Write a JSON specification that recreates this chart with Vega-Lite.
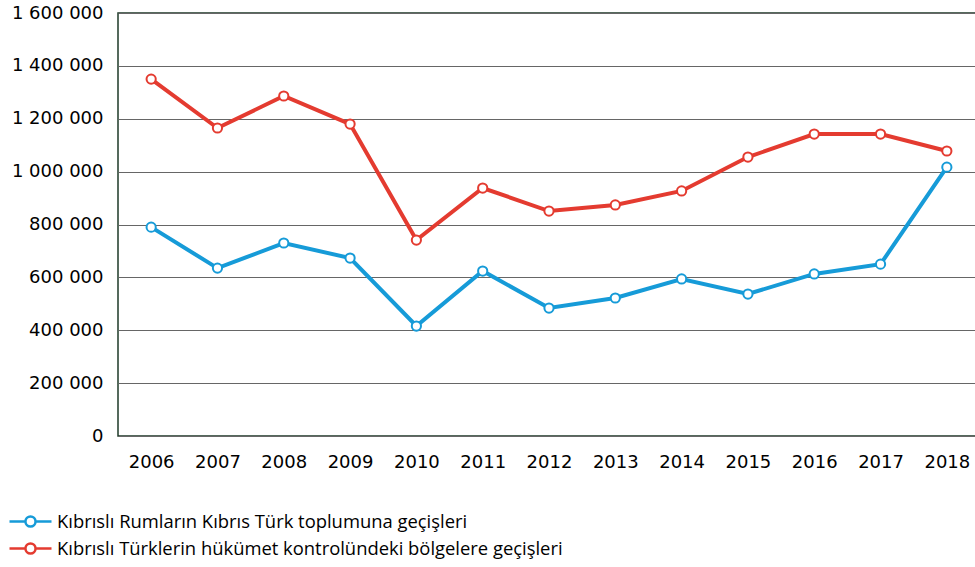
{
  "$schema": "https://vega.github.io/schema/vega-lite/v6.json",
  "autosize": "none",
  "width": 862,
  "height": 423,
  "padding": {"left": 118, "top": 13, "right": 0, "bottom": 131},
  "background": "white",
  "config": {
    "view": {"stroke": "#1e3a28", "strokeWidth": 1.5},
    "axis": {"labelFont": "DejaVu Sans", "labelFontSize": 18, "labelColor": "#000", "ticks": false, "domain": false, "title": null}
  },
  "data": {"values": [
    {"year": "2006", "series": "Kıbrıslı Rumların Kıbrıs Türk toplumuna geçişleri", "value": 790000},
    {"year": "2007", "series": "Kıbrıslı Rumların Kıbrıs Türk toplumuna geçişleri", "value": 635000},
    {"year": "2008", "series": "Kıbrıslı Rumların Kıbrıs Türk toplumuna geçişleri", "value": 730000},
    {"year": "2009", "series": "Kıbrıslı Rumların Kıbrıs Türk toplumuna geçişleri", "value": 673000},
    {"year": "2010", "series": "Kıbrıslı Rumların Kıbrıs Türk toplumuna geçişleri", "value": 416000},
    {"year": "2011", "series": "Kıbrıslı Rumların Kıbrıs Türk toplumuna geçişleri", "value": 624000},
    {"year": "2012", "series": "Kıbrıslı Rumların Kıbrıs Türk toplumuna geçişleri", "value": 484000},
    {"year": "2013", "series": "Kıbrıslı Rumların Kıbrıs Türk toplumuna geçişleri", "value": 522000},
    {"year": "2014", "series": "Kıbrıslı Rumların Kıbrıs Türk toplumuna geçişleri", "value": 594000},
    {"year": "2015", "series": "Kıbrıslı Rumların Kıbrıs Türk toplumuna geçişleri", "value": 537000},
    {"year": "2016", "series": "Kıbrıslı Rumların Kıbrıs Türk toplumuna geçişleri", "value": 613000},
    {"year": "2017", "series": "Kıbrıslı Rumların Kıbrıs Türk toplumuna geçişleri", "value": 650000},
    {"year": "2018", "series": "Kıbrıslı Rumların Kıbrıs Türk toplumuna geçişleri", "value": 1017000},
    {"year": "2006", "series": "Kıbrıslı Türklerin hükümet kontrolündeki bölgelere geçişleri", "value": 1350000},
    {"year": "2007", "series": "Kıbrıslı Türklerin hükümet kontrolündeki bölgelere geçişleri", "value": 1165000},
    {"year": "2008", "series": "Kıbrıslı Türklerin hükümet kontrolündeki bölgelere geçişleri", "value": 1286000},
    {"year": "2009", "series": "Kıbrıslı Türklerin hükümet kontrolündeki bölgelere geçişleri", "value": 1180000},
    {"year": "2010", "series": "Kıbrıslı Türklerin hükümet kontrolündeki bölgelere geçişleri", "value": 741000},
    {"year": "2011", "series": "Kıbrıslı Türklerin hükümet kontrolündeki bölgelere geçişleri", "value": 938000},
    {"year": "2012", "series": "Kıbrıslı Türklerin hükümet kontrolündeki bölgelere geçişleri", "value": 851000},
    {"year": "2013", "series": "Kıbrıslı Türklerin hükümet kontrolündeki bölgelere geçişleri", "value": 874000},
    {"year": "2014", "series": "Kıbrıslı Türklerin hükümet kontrolündeki bölgelere geçişleri", "value": 927000},
    {"year": "2015", "series": "Kıbrıslı Türklerin hükümet kontrolündeki bölgelere geçişleri", "value": 1055000},
    {"year": "2016", "series": "Kıbrıslı Türklerin hükümet kontrolündeki bölgelere geçişleri", "value": 1142000},
    {"year": "2017", "series": "Kıbrıslı Türklerin hükümet kontrolündeki bölgelere geçişleri", "value": 1142000},
    {"year": "2018", "series": "Kıbrıslı Türklerin hükümet kontrolündeki bölgelere geçişleri", "value": 1078000}
  ]},
  "encoding": {
    "x": {"field": "year", "type": "ordinal", "scale": {"type": "point", "padding": 0.5},
          "axis": {"labelAngle": 0, "labelPadding": 17, "grid": false}},
    "y": {"field": "value", "type": "quantitative", "scale": {"domain": [0, 1600000], "nice": false},
          "axis": {"values": [0, 200000, 400000, 600000, 800000, 1000000, 1200000, 1400000, 1600000],
                   "labelExpr": "replace(format(datum.value, ','), /,/g, ' ')", "labelPadding": 15, "grid": true, "gridColor": "#666", "gridWidth": 1.2}},
    "color": {"field": "series", "type": "nominal",
              "scale": {"range": ["#169bd8", "#e43b30"]},
              "legend": {"orient": "none", "legendX": -103, "legendY": 493, "title": null,
                         "symbolType": "M-1.5,0H-0.36A0.36,0.36 0 1,0 0.36,0A0.36,0.36 0 1,0 -0.36,0M0.36,0H1.5",
                         "symbolSize": 784, "symbolStrokeWidth": 2.5,
                         "labelFont": "Open Sans", "labelFontSize": 18.4, "labelColor": "#000", "labelLimit": 0,
                         "labelOffset": 11, "rowPadding": 1,
                         "encode": {"symbols": {"update": {"fill": {"value": "white"}}}}}}
  },
  "layer": [
    {"mark": {"type": "line", "strokeWidth": 4}},
    {"mark": {"type": "point", "shape": "circle", "filled": false, "fill": "white", "size": 85, "strokeWidth": 2, "opacity": 1}}
  ]
}
